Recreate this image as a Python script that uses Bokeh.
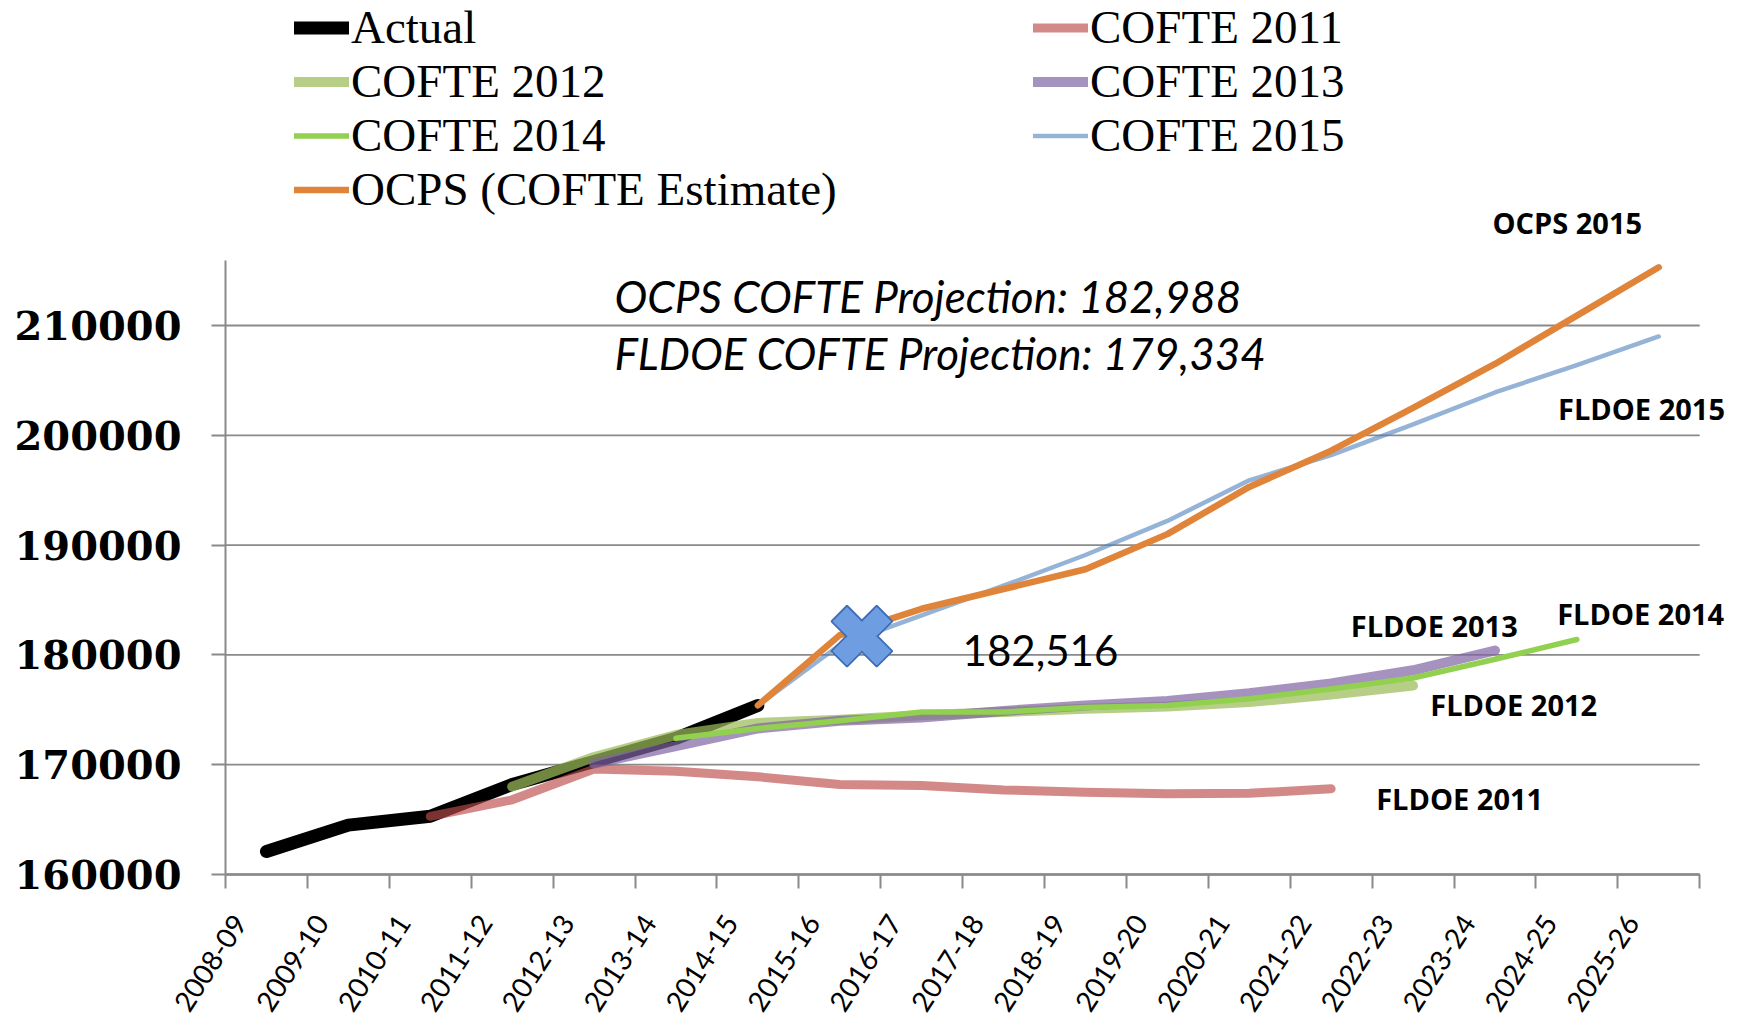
import math
from bokeh.plotting import figure
from bokeh.models import (Range1d, FixedTicker, Legend, LegendItem, Label,
                          ColumnDataSource, BasicTickFormatter)
from bokeh.embed import file_html
from bokeh.resources import INLINE

# ---------------- data ----------------
categories = ["2008-09", "2009-10", "2010-11", "2011-12", "2012-13", "2013-14",
              "2014-15", "2015-16", "2016-17", "2017-18", "2018-19", "2019-20",
              "2020-21", "2021-22", "2022-23", "2023-24", "2024-25", "2025-26"]
N = None
actual = [162100, 164500, 165300, 168200, 170300, 172400, 175400] + [N] * 11
cofte_2011 = [N, N, 165300, 166800, 169600, 169400, 168900, 168200, 168100, 167700,
              167500, 167350, 167400, 167800, N, N, N, N]
cofte_2012 = [N, N, N, 168000, 170700, 172700, 173800, 174100, 174500, 174800,
              175100, 175300, 175700, 176400, 177200, N, N, N]
cofte_2013 = [N, N, N, N, 170100, 171700, 173300, 174000, 174300, 174900,
              175400, 175800, 176500, 177400, 178600, 180400, N, N]
cofte_2014 = [N, N, N, N, N, 172400, 173300, 174000, 174800, 174800,
              175200, 175400, 176000, 176900, 177900, 179600, 181400, N]
cofte_2015 = [N, N, N, N, N, N, 175400, 180900, 183600, 186300,
              189100, 192200, 195900, 198200, 201000, 203900, 206400, 209000]
ocps_est = [N, N, N, N, N, N, 175400, 181800, 184200, 186000,
            187800, 191000, 195300, 198600, 202500, 206500, 210900, 215300]
y_ticks = [160000, 170000, 180000, 190000, 200000, 210000]
y_axis_top = 215900

marker_value = 181700          # blue X marker (value level)
marker_pos = 7.77              # position along the category axis
marker_text = "182,516"
proj_texts = ["OCPS COFTE Projection: 182,988", "FLDOE COFTE Projection: 179,334"]

series = [
    ("Actual", actual, "#000000", 1.0, 13),
    ("COFTE 2011", cofte_2011, "#bd4c4c", 0.66, 9),
    ("COFTE 2012", cofte_2012, "#9bbb59", 0.72, 10),
    ("COFTE 2013", cofte_2013, "#8064a2", 0.70, 10),
    ("COFTE 2014", cofte_2014, "#92d050", 1.0, 5.5),
    ("COFTE 2015", cofte_2015, "#4f81bd", 0.60, 4.5),
    ("OCPS (COFTE Estimate)", ocps_est, "#e0843a", 1.0, 6.5),
]

# ---------------- layout ----------------
W, H = 1734, 1020
LEFT = 225             # pixel column of the value axis
AXIS_Y = 874           # pixel row of the category axis
CAT_PX = 81.9          # pixels per category
VAL_PX = 109.8         # pixels per 10000
n_cat = len(categories)
x_start = -LEFT / CAT_PX
x_end = (W - LEFT) / CAT_PX
y_end = y_ticks[0] + AXIS_Y / VAL_PX * 10000
y_start = y_ticks[0] - (H - AXIS_Y) / VAL_PX * 10000

p = figure(width=W, height=H, x_range=Range1d(x_start, x_end),
           y_range=Range1d(y_start, y_end), output_backend="svg",
           toolbar_location=None, min_border_left=0, min_border_right=0,
           min_border_top=0, min_border_bottom=0)
p.outline_line_color = None
p.background_fill_color = "white"

# horizontal gridlines (only across the category span)
p.segment(x0=[0] * len(y_ticks), x1=[n_cat] * len(y_ticks), y0=y_ticks, y1=y_ticks,
          line_color="#8a8a8a", line_width=1.8)

xs = [i + 0.5 for i in range(n_cat)]

renderers = {}
for name, vals, color, alpha, lw in series:
    ys = [float("nan") if v is None else v for v in vals]
    src = ColumnDataSource(dict(x=xs, y=ys))
    r = p.line("x", "y", source=src, line_color=color, line_alpha=alpha,
               line_width=lw, line_cap="round", line_join="round")
    renderers[name] = r

# x axis at the 160000 level: labels near category centres, ticks at boundaries
label_pos = [x - 0.33 for x in xs]
p.xaxis.fixed_location = y_ticks[0]
p.xaxis.bounds = (0, n_cat)
p.xaxis.ticker = FixedTicker(ticks=label_pos, minor_ticks=list(range(n_cat + 1)))
p.xaxis.major_label_overrides = {lp: c for lp, c in zip(label_pos, categories)}
p.xaxis.major_label_orientation = math.radians(57)
p.xaxis.major_tick_line_color = None
p.xaxis.major_tick_out = 0
p.xaxis.major_tick_in = 0
p.xaxis.minor_tick_out = 14
p.xaxis.minor_tick_in = 0
p.xaxis.minor_tick_line_color = "#8a8a8a"
p.xaxis.minor_tick_line_width = 2
p.xaxis.axis_line_color = "#8a8a8a"
p.xaxis.axis_line_width = 2.5
p.xaxis.major_label_text_font = "Lato"
p.xaxis.major_label_text_font_size = "28px"
p.xaxis.major_label_text_color = "black"
p.xaxis.major_label_standoff = 29

# value axis at the left edge of the category span
p.yaxis.fixed_location = 0
p.yaxis.bounds = (y_ticks[0], y_axis_top)
p.yaxis.ticker = FixedTicker(ticks=y_ticks)
p.yaxis.formatter = BasicTickFormatter(use_scientific=False)
p.yaxis.major_tick_out = 14
p.yaxis.major_tick_in = 0
p.yaxis.minor_tick_line_color = None
p.yaxis.major_tick_line_color = "#8a8a8a"
p.yaxis.major_tick_line_width = 2
p.yaxis.axis_line_color = "#8a8a8a"
p.yaxis.axis_line_width = 2
p.yaxis.major_label_text_font = "DejaVu Serif"
p.yaxis.major_label_text_font_style = "bold"
p.yaxis.major_label_text_font_size = "40px"
p.yaxis.major_label_text_color = "black"
p.yaxis.major_label_standoff = 30

p.xgrid.visible = False
p.ygrid.visible = False

# ---------------- X marker ----------------
mx = [marker_pos, marker_pos]
my = [marker_value, marker_value]
angles = [math.pi / 4, -math.pi / 4]
p.rect(x=mx, y=my, width=64, height=22, angle=angles, width_units="screen",
       height_units="screen", fill_color="#6f9de2", line_color="#3d6db5",
       line_width=2)
p.rect(x=mx, y=my, width=62, height=20, angle=angles, width_units="screen",
       height_units="screen", fill_color="#6f9de2", line_color=None)

# ---------------- texts ----------------
p.add_layout(Label(x=4.75, y=212700, text=proj_texts[0], text_font="Lato",
                   text_font_style="italic", text_font_size="44px",
                   text_baseline="middle", text_color="black"))
p.add_layout(Label(x=4.75, y=207500, text=proj_texts[1], text_font="Lato",
                   text_font_style="italic", text_font_size="44px",
                   text_baseline="middle", text_color="black"))
p.add_layout(Label(x=9.0, y=180360, text=marker_text, text_font="Lato",
                   text_font_size="42px", text_baseline="middle",
                   text_color="black"))

end_labels = [
    ("OCPS 2015", 15.47, 219400),
    ("FLDOE 2015", 16.27, 202400),
    ("FLDOE 2014", 16.26, 183800),
    ("FLDOE 2013", 13.74, 182680),
    ("FLDOE 2012", 14.71, 175500),
    ("FLDOE 2011", 14.05, 166900),
]
for txt, lx, ly in end_labels:
    p.add_layout(Label(x=lx, y=ly, text=txt, text_font="Open Sans",
                       text_font_style="bold", text_font_size="29px",
                       text_baseline="middle", text_color="black"))

# ---------------- legends ----------------
def make_legend(names, loc):
    lg = Legend(items=[LegendItem(label=n, renderers=[renderers[n]]) for n in names],
                location=loc, orientation="vertical")
    lg.label_text_font = "Liberation Serif"
    lg.label_text_font_size = "47px"
    lg.label_text_color = "black"
    lg.label_standoff = 2
    lg.glyph_width = 55
    lg.glyph_height = 53
    lg.label_height = 53
    lg.spacing = 0
    lg.padding = 0
    lg.margin = 0
    lg.border_line_color = None
    lg.background_fill_alpha = 0
    return lg

# legend positions are measured in pixels from the frame's bottom-left corner
p.add_layout(make_legend(["Actual", "COFTE 2012", "COFTE 2014", "OCPS (COFTE Estimate)"],
                         (LEFT + 69, 658 + (H - AXIS_Y))), "center")
p.add_layout(make_legend(["COFTE 2011", "COFTE 2013", "COFTE 2015"],
                         (LEFT + 808, 712 + (H - AXIS_Y))), "center")

open("out.html", "w").write(file_html(p, INLINE))
